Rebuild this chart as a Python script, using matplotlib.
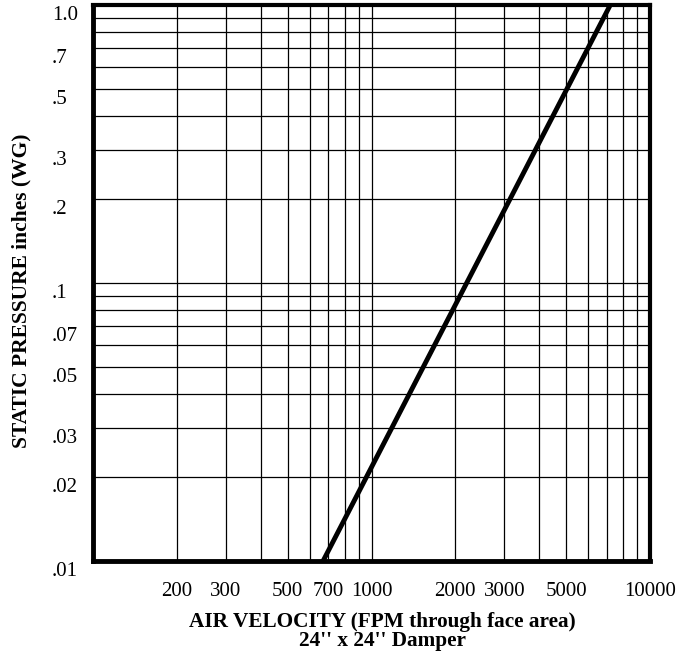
import matplotlib
matplotlib.use("Agg")
import matplotlib.pyplot as plt
import matplotlib.transforms as mtransforms
from matplotlib.ticker import FixedLocator, NullFormatter

plt.rcParams['font.family'] = ['Liberation Serif', 'DejaVu Serif']

# curve (velocity fpm, pressure in. WG)
velocity = [670, 7200]
pressure = [0.01, 1.0]

x_ticks = [200, 300, 500, 700, 1000, 2000, 3000, 5000, 10000]
x_labels = ['200', '300', '500', '700', '1000', '2000', '3000', '5000', '10000']
y_ticks = [0.01, 0.02, 0.03, 0.05, 0.07, 0.1, 0.2, 0.3, 0.5, 0.7, 1.0]
y_labels = ['.01', '.02', '.03', '.05', '.07', '.1', '.2', '.3', '.5', '.7', '1.0']

# grid lines: every 1..9 of each decade
x_grid = [m * 10 ** d for d in (2, 3) for m in range(1, 10)] + [10000]
y_grid = [m * 10.0 ** d for d in (-2, -1) for m in range(1, 10)] + [1.0]

fig = plt.figure(figsize=(6.83, 6.61), dpi=100)
ax = fig.add_axes([93 / 683, 1 - 561 / 661, 557 / 683, 556 / 661])

ax.set_xscale('log')
ax.set_yscale('log')
ax.set_xlim(100, 10000)
ax.set_ylim(0.01, 1.0)

for xv in x_grid:
    ax.axvline(xv, color='black', lw=0.9, zorder=1)
for yv in y_grid:
    ax.axhline(yv, color='black', lw=0.9, zorder=1)

ax.plot(velocity, pressure, color='black', lw=3.5, solid_capstyle='butt', zorder=3, clip_on=False)

ax.xaxis.set_major_locator(FixedLocator(x_ticks))
ax.xaxis.set_minor_formatter(NullFormatter())
ax.set_xticklabels(x_labels)
ax.yaxis.set_major_locator(FixedLocator(y_ticks))
ax.yaxis.set_minor_formatter(NullFormatter())
ax.set_yticklabels(y_labels)
ax.tick_params(which='both', length=0, labelsize=15)
ax.tick_params(axis='x', pad=15)
ax.tick_params(axis='y', pad=29.5)
# labels in the original sit a little below their lines
shift = mtransforms.ScaledTranslation(0, -8 / 100, fig.dpi_scale_trans)
for lbl in ax.get_yticklabels():
    lbl.set_ha('left')
    lbl.set_transform(lbl.get_transform() + shift)

for side in ['left', 'bottom']:
    ax.spines[side].set_linewidth(3.5)
for side in ['top', 'right']:
    ax.spines[side].set_linewidth(3)
for sp in ax.spines.values():
    sp.set_zorder(4)

ax.set_xlabel('AIR VELOCITY (FPM through face area)\n24\'\' x 24\'\' Damper',
              fontsize=15.3, fontweight='bold', linespacing=0.9)
ax.xaxis.set_label_coords(0.52, -0.092)
ax.set_ylabel('STATIC PRESSURE inches (WG)', fontsize=15.5, fontweight='bold')
ax.yaxis.label.set_va('center')
ax.yaxis.set_label_coords(-0.129, 0.486)

plt.savefig('out.png', dpi=100)
